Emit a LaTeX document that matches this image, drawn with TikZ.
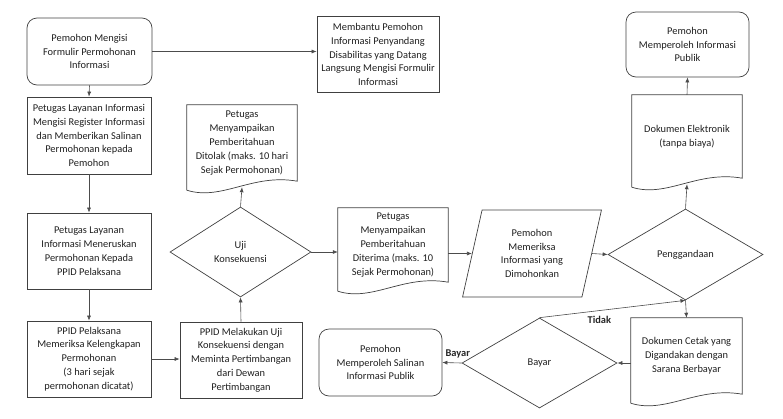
\documentclass[tikz,border=0pt]{standalone}
\usepackage{fontspec}
\setmainfont{Carlito}
\usetikzlibrary{shapes.geometric,arrows.meta,calc}
\newcommand{\wavedoc}[1]{\draw[draw=black!75, line width=0.7pt] ([yshift=-9pt]#1.south west) -- (#1.north west) -- (#1.north east) -- (#1.south east) .. controls ([shift={(-45pt,8pt)}]#1.south east) and ([shift={(35pt,-20pt)}]#1.south west) .. ([yshift=-9pt]#1.south west);}
\begin{document}
\begin{tikzpicture}[x=1pt,y=-1pt,
  every node/.style={font=\fontsize{10.4}{13.8}\selectfont, text=black!88, align=center},
  box/.style={draw=black!75, line width=0.7pt, rectangle, inner sep=1pt},
  rbox/.style={box, rounded corners=10pt},
  docnode/.style={inner sep=1pt, minimum width=110pt},
  dia/.style={draw=black!75, line width=0.7pt, diamond, inner sep=0pt},
  paral/.style={draw=black!75, line width=0.7pt, trapezium, trapezium left angle=76, trapezium right angle=104, trapezium stretches=true, inner sep=0pt},
  arr/.style={draw=black!70, line width=0.6pt, -{Latex[length=5pt,width=4pt]}},
  lbl/.style={font=\fontsize{10.4}{12}\selectfont\bfseries, text=black!85}
]
\useasboundingbox (0,0) rectangle (783,418);

% left column
\node[rbox, minimum width=125pt, minimum height=67pt] (n1) at (89.5,51.5) {Pemohon Mengisi\\Formulir Permohonan\\Informasi};
\node[box, minimum width=122pt, minimum height=76pt] (n2) at (378,54.5) {Membantu Pemohon\\Informasi Penyandang\\Disabilitas yang Datang\\Langsung Mengisi Formulir\\Informasi};
\node[box, minimum width=124pt, minimum height=77pt] (n3) at (89,135.5) {Petugas Layanan Informasi\\Mengisi Register Informasi\\dan Memberikan Salinan\\Permohonan kepada\\Pemohon};
\node[box, minimum width=124pt, minimum height=76pt] (n4) at (89,251) {Petugas Layanan\\Informasi Meneruskan\\Permohonan Kepada\\PPID Pelaksana};
\node[box, minimum width=124pt, minimum height=76pt] (n5) at (89,359) {PPID Pelaksana\\Memeriksa Kelengkapan\\Permohonan\\(3 hari sejak\\permohonan dicatat)};
\node[box, minimum width=122pt, minimum height=76pt] (n6) at (241,360) {PPID Melakukan Uji\\Konsekuensi dengan\\Meminta Pertimbangan\\dari Dewan\\Pertimbangan};

% middle
\node[dia, minimum width=141pt, minimum height=90pt] (uji) at (240.5,252) {Uji\\Konsekuensi};
\node[docnode, minimum height=76pt] (tolak) at (242,143) {Petugas\\Menyampaikan\\Pemberitahuan\\Ditolak (maks. 10 hari\\Sejak Permohonan)};
\wavedoc{tolak}
\node[docnode, minimum height=74pt] (terima) at (393,245) {Petugas\\Menyampaikan\\Pemberitahuan\\Diterima (maks. 10\\Sejak Permohonan)};
\wavedoc{terima}
\node[paral, minimum width=140pt, minimum height=87pt] (cek) at (532,253.5) {Pemohon\\Memeriksa\\Informasi yang\\Dimohonkan};

% right
\node[dia, minimum width=155pt, minimum height=91pt] (peng) at (685.5,254.5) {Penggandaan};
\node[docnode, minimum height=83pt] (elek) at (687,136.5) {Dokumen Elektronik\\(tanpa biaya)};
\wavedoc{elek}
\node[rbox, minimum width=123pt, minimum height=65pt] (info) at (687.5,44.5) {Pemohon\\Memperoleh Informasi\\Publik};
\node[docnode, minimum width=111pt, minimum height=76pt] (cetak) at (686.5,356) {Dokumen Cetak yang\\Digandakan dengan\\Sarana Berbayar};
\wavedoc{cetak}
\node[dia, minimum width=155pt, minimum height=90pt] (bayar) at (539.5,363) {Bayar};
\node[rbox, minimum width=123pt, minimum height=67pt] (salin) at (380.5,362.5) {Pemohon\\Memperoleh Salinan\\Informasi Publik};

% connectors
\draw[arr] (n1.east) -- (n1.east -| n2.west);
\draw[arr] (n1.south) -- (n3.north);
\draw[arr] (n3.south) -- (n4.north);
\draw[arr] (n4.south) -- (n5.north);
\draw[arr] (n5.east) -- (n5.east -| n6.west);
\draw[arr] (n6.north) -- (uji.south);
\draw[arr] (uji.north) -- ([yshift=-6pt]tolak.south);
\draw[arr] (uji.east) -- (uji.east -| terima.west);
\draw[arr] (cek.west -| terima.east) -- (cek.west);
\draw[arr] (cek.east) -- (peng.west);
\draw[arr] (peng.north) -- ([yshift=-6pt]elek.south);
\draw[arr] (elek.north) -- (info.south);
\draw[arr] (peng.south) -- (cetak.north);
\draw[arr] (bayar.east -| cetak.west) -- (bayar.east);
\draw[arr] (bayar.north) -- node[lbl, pos=0.41, below=2pt] {Tidak} (peng.south);
\draw[arr] (bayar.west) -- node[lbl, pos=0.2, above=1pt] {Bayar} (salin.east);
\end{tikzpicture}
\end{document}
